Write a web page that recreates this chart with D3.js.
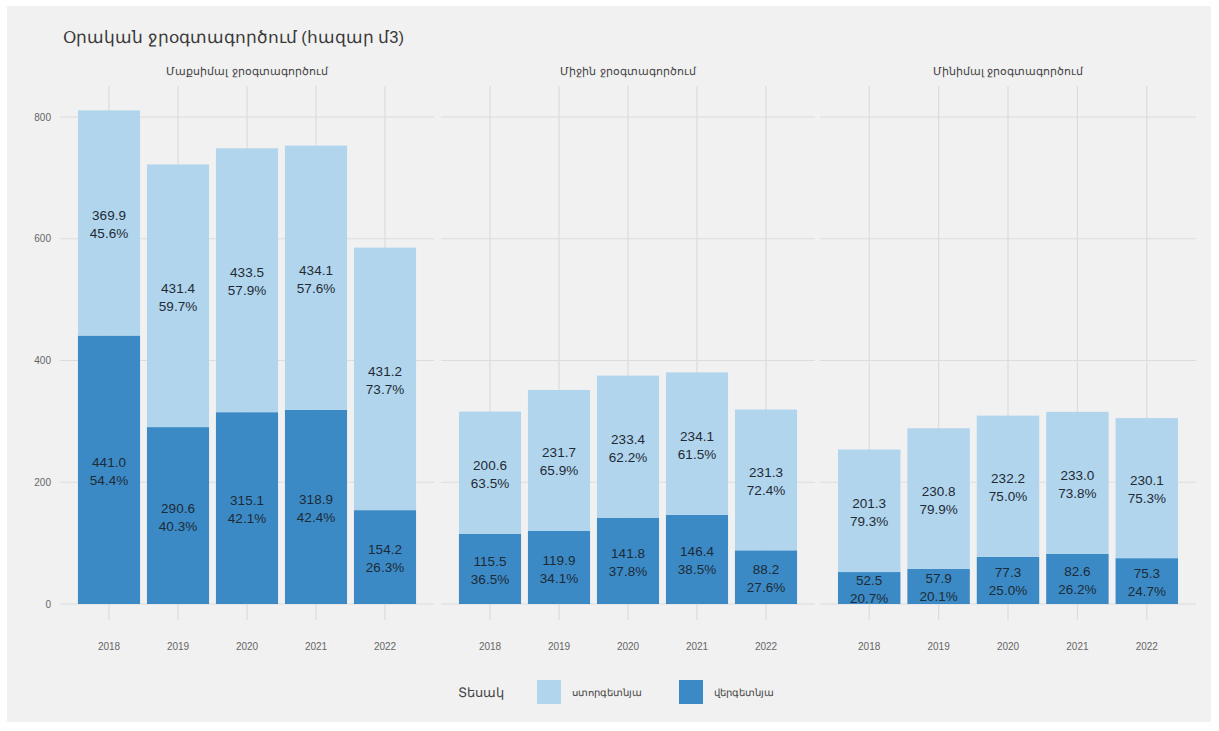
<!DOCTYPE html>
<html><head><meta charset="utf-8">
<script src="https://cdn.jsdelivr.net/npm/d3@7"></script>
<style>body{margin:0;background:#fff}svg{display:block}text{font-family:"Liberation Sans",Arial,sans-serif}</style>
</head><body>
<svg id="c" width="1219" height="731"></svg>
<script>
const title = "Օրական ջրօգտագործում (հազար մ3)";
const facets = ["Մաքսիմալ ջրօգտագործում", "Միջին ջրօգտագործում", "Մինիմալ ջրօգտագործում"];
const years = ["2018", "2019", "2020", "2021", "2022"];
const yTicks = [0, 200, 400, 600, 800];
const types = ["ստորգետնյա", "վերգետնյա"];
const legendTitle = "Տեսակ";
// surface (dark) and underground (light) values per facet
const surfaceMax = [441.0, 290.6, 315.1, 318.9, 154.2];
const groundMax  = [369.9, 431.4, 433.5, 434.1, 431.2];
const surfacePctMax = [54.4, 40.3, 42.1, 42.4, 26.3];
const groundPctMax  = [45.6, 59.7, 57.9, 57.6, 73.7];
const surfaceMid = [115.5, 119.9, 141.8, 146.4, 88.2];
const groundMid  = [200.6, 231.7, 233.4, 234.1, 231.3];
const surfacePctMid = [36.5, 34.1, 37.8, 38.5, 27.6];
const groundPctMid  = [63.5, 65.9, 62.2, 61.5, 72.4];
const surfaceMin = [52.5, 57.9, 77.3, 82.6, 75.3];
const groundMin  = [201.3, 230.8, 232.2, 233.0, 230.1];
const surfacePctMin = [20.7, 20.1, 25.0, 26.2, 24.7];
const groundPctMin  = [79.3, 79.9, 75.0, 73.8, 75.3];

const colors = {light: "#b1d5ec", dark: "#3b8ac6"};
const facetData = [
  {surface: surfaceMax, ground: groundMax, sp: surfacePctMax, gp: groundPctMax},
  {surface: surfaceMid, ground: groundMid, sp: surfacePctMid, gp: groundPctMid},
  {surface: surfaceMin, ground: groundMin, sp: surfacePctMin, gp: groundPctMin}
];

const svg = d3.select("#c");
svg.append("rect").attr("x", 7).attr("y", 6).attr("width", 1204).attr("height", 716).attr("fill", "#f1f1f1");

svg.append("text").attr("x", 63).attr("y", 43).attr("font-size", 16.5).attr("fill", "#3a3a3a").text(title);

const y = d3.scaleLinear().domain([0, 800]).range([604, 117]);
const panels = [[60, 434], [441, 815], [820, 1196]];
const panelTop = 86, panelBottom = 620;

panels.forEach((p, fi) => {
  const x = d3.scaleBand().domain(years).range([p[0] + 14.5, p[1] - 14.5]).paddingInner(0.1).paddingOuter(0.05);
  const g = svg.append("g");
  // gridlines
  g.selectAll(".hg").data(yTicks).join("line")
    .attr("x1", p[0]).attr("x2", p[1]).attr("y1", d => y(d)).attr("y2", d => y(d))
    .attr("stroke", "#dcdcdc").attr("stroke-width", 1.2);
  g.selectAll(".vg").data(years).join("line")
    .attr("x1", d => x(d) + x.bandwidth() / 2).attr("x2", d => x(d) + x.bandwidth() / 2)
    .attr("y1", panelTop).attr("y2", panelBottom)
    .attr("stroke", "#dcdcdc").attr("stroke-width", 1.2);
  // facet label
  svg.append("text").attr("x", (p[0] + p[1]) / 2).attr("y", 75).attr("text-anchor", "middle")
    .attr("font-size", 11).attr("fill", "#444").text(facets[fi]);
  const fd = facetData[fi];
  const rows = years.map((yr, i) => ({yr, s: fd.surface[i], gr: fd.ground[i], sp: fd.sp[i], gp: fd.gp[i]}));
  // dark (surface) bottom
  g.selectAll(".bd").data(rows).join("rect")
    .attr("x", d => x(d.yr)).attr("width", x.bandwidth())
    .attr("y", d => y(d.s)).attr("height", d => y(0) - y(d.s)).attr("fill", colors.dark);
  g.selectAll(".bl").data(rows).join("rect")
    .attr("x", d => x(d.yr)).attr("width", x.bandwidth())
    .attr("y", d => y(d.s + d.gr)).attr("height", d => y(d.s) - y(d.s + d.gr)).attr("fill", colors.light);
  const lab = (sel, cy, v, pc) => {
    const t = sel.append("text").attr("text-anchor", "middle").attr("font-size", 13.5).attr("fill", "#1e2a36");
    t.append("tspan").attr("x", 0).attr("y", cy - 3).text(v.toFixed(1));
    t.append("tspan").attr("x", 0).attr("y", cy + 15).text(pc.toFixed(1) + "%");
  };
  rows.forEach(d => {
    const cx = x(d.yr) + x.bandwidth() / 2;
    const gg = g.append("g").attr("transform", `translate(${cx},0)`);
    lab(gg, y(d.s / 2), d.s, d.sp);
    lab(gg, y(d.s + d.gr / 2), d.gr, d.gp);
  });
  // x axis labels
  g.selectAll(".xl").data(years).join("text")
    .attr("x", d => x(d) + x.bandwidth() / 2).attr("y", 650).attr("text-anchor", "middle")
    .attr("font-size", 10).attr("fill", "#666").text(d => d);
});

// y axis labels
svg.selectAll(".yl").data(yTicks).join("text")
  .attr("x", 51).attr("y", d => y(d) + 3.5).attr("text-anchor", "end")
  .attr("font-size", 10).attr("fill", "#666").text(d => d);

// legend
const lg = svg.append("g");
lg.append("text").attr("x", 458).attr("y", 697).attr("font-size", 13).attr("fill", "#444").text(legendTitle);
const lx = [537, 679];
[colors.light, colors.dark].forEach((c, i) => {
  lg.append("rect").attr("x", lx[i]).attr("y", 680).attr("width", 24).attr("height", 24).attr("fill", c);
  lg.append("text").attr("x", lx[i] + 35).attr("y", 696).attr("font-size", 10).attr("fill", "#444").text(types[i]);
});
</script>
</body></html>
